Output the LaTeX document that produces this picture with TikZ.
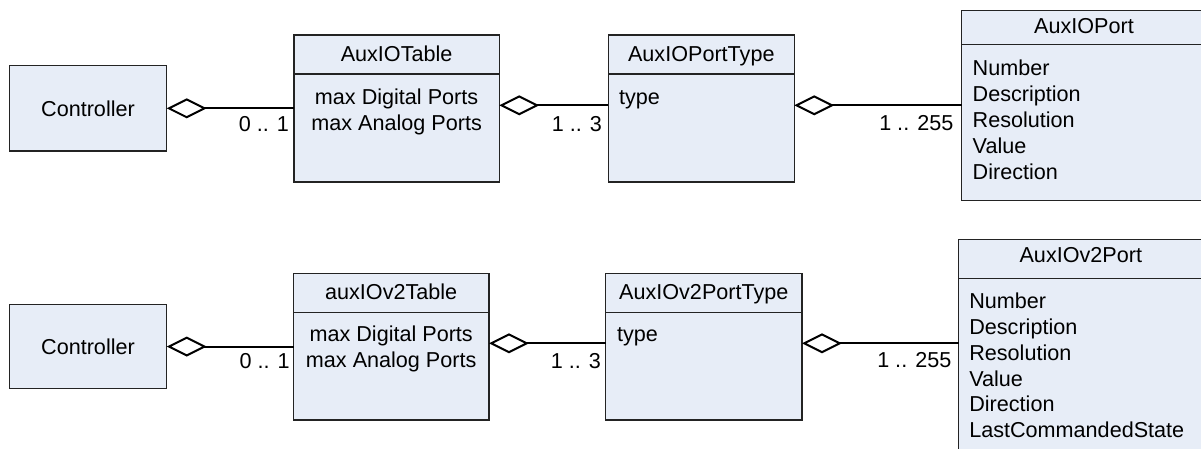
\documentclass[tikz,border=0pt]{standalone}
\usepackage{fontspec}
\setmainfont{Liberation Sans}
\usetikzlibrary{arrows.meta}
\definecolor{boxfill}{RGB}{231,237,247}
\definecolor{boxline}{RGB}{35,35,35}
\begin{document}
\begin{tikzpicture}[x=1pt,y=-1pt,
  every node/.style={font=\fontsize{21.6}{25.9}\selectfont, inner sep=0pt, outer sep=0pt},
  classbox/.style={draw=boxline, fill=boxfill, line width=1.3pt, rectangle, anchor=north west},
  sepline/.style={draw=boxline, line width=1.3pt},
  conn/.style={line width=2pt, draw=black, -{Diamond[open, fill=white, length=40pt, width=20pt, line width=2pt]}},
  mult/.style={anchor=base east},
  ctitle/.style={anchor=base},
  attrs/.style={anchor=base west},
]
\useasboundingbox (0,0) rectangle (1201,449);
\clip (0,0) rectangle (1201,449);

% ---------------- top row ----------------
\node[classbox, minimum width=157.4pt, minimum height=85.3pt] (ctrl1) at (9.3,65.7) {Controller};

\node[classbox, minimum width=205.3pt, minimum height=147pt] (tbl1) at (294,35) {};
\draw[sepline] (tbl1.west |- 0,74) -- (tbl1.east |- 0,74);
\node[ctitle] (tbl1t) at (396.6,61.5) {AuxIOTable};
\node[anchor=base] (tbl1a) at (396.6,105) {\begin{tabular}[t]{@{}c@{}}max Digital Ports\\max Analog Ports\end{tabular}};

\node[classbox, minimum width=186pt, minimum height=147pt] (ptype1) at (608.3,35) {};
\draw[sepline] (ptype1.west |- 0,74) -- (ptype1.east |- 0,74);
\node[ctitle] (ptype1t) at (701.3,61.5) {AuxIOPortType};
\node[attrs] (ptype1a) at (619,105) {type};

\node[classbox, minimum width=244pt, minimum height=190pt] (port1) at (961.7,10.7) {};
\draw[sepline] (port1.west |- 0,44.3) -- (port1.east |- 0,44.3);
\node[ctitle] (port1t) at (1084,34) {AuxIOPort};
\node[attrs] (port1a) at (972.7,76) {\begin{tabular}[t]{@{}l@{}}Number\\Description\\Resolution\\Value\\Direction\end{tabular}};

\draw[conn] (tbl1.west |- ctrl1.east) -- (ctrl1.east);
\draw[conn] (ptype1.west |- 0,105.3) -- (tbl1.east |- 0,105.3);
\draw[conn] (port1.west |- 0,105.3) -- (ptype1.east |- 0,105.3);

\node[mult] (m1) at (289,132) {0 .. 1};
\node[mult] (m2) at (602,132) {1 .. 3};
\node[mult] (m3) at (953.3,131) {1 .. 255};

% ---------------- bottom row ----------------
\node[classbox, minimum width=157.4pt, minimum height=84.5pt] (ctrl2) at (9.3,304.3) {Controller};

\node[classbox, minimum width=195.5pt, minimum height=146.7pt] (tbl2) at (293.5,273.3) {};
\draw[sepline] (tbl2.west |- 0,312.3) -- (tbl2.east |- 0,312.3);
\node[ctitle] (tbl2t) at (391.2,299.5) {auxIOv2Table};
\node[anchor=base] (tbl2a) at (391.2,341.7) {\begin{tabular}[t]{@{}c@{}}max Digital Ports\\max Analog Ports\end{tabular}};

\node[classbox, minimum width=196.3pt, minimum height=146.7pt] (ptype2) at (605.7,273.3) {};
\draw[sepline] (ptype2.west |- 0,312.3) -- (ptype2.east |- 0,312.3);
\node[ctitle] (ptype2t) at (703.8,299.5) {AuxIOv2PortType};
\node[attrs] (ptype2a) at (617,341.7) {type};

\node[classbox, minimum width=244.4pt, minimum height=230pt] (port2) at (958.6,239.3) {};
\draw[sepline] (port2.west |- 0,278.3) -- (port2.east |- 0,278.3);
\node[ctitle] (port2t) at (1080.8,262.6) {AuxIOv2Port};
\node[attrs] (port2a) at (969.3,308.3) {\begin{tabular}[t]{@{}l@{}}Number\\Description\\Resolution\\Value\\Direction\\LastCommandedState\end{tabular}};

\draw[conn] (tbl2.west |- ctrl2.east) -- (ctrl2.east);
\draw[conn] (ptype2.west |- 0,343.3) -- (tbl2.east |- 0,343.3);
\draw[conn] (port2.west |- 0,343.3) -- (ptype2.east |- 0,343.3);

\node[mult] (m4) at (289.7,368.5) {0 .. 1};
\node[mult] (m5) at (601,368.5) {1 .. 3};
\node[mult] (m6) at (951.3,367.5) {1 .. 255};
\end{tikzpicture}
\end{document}
